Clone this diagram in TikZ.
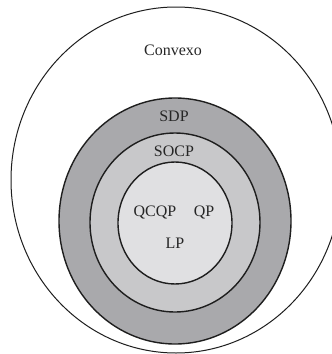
\documentclass[tikz,border=0pt]{standalone}
\usepackage{fontspec}
\setmainfont{Liberation Serif}
\definecolor{sdpgray}{RGB}{169,169,172}
\definecolor{socpgray}{RGB}{200,200,202}
\definecolor{innergray}{RGB}{224,224,226}
\definecolor{linecol}{RGB}{30,30,30}
\tikzset{
  ring/.style={draw=linecol, line width=1.4pt},
  lbl/.style={font=\fontsize{16}{18}\selectfont, text=black!85, inner sep=0pt, anchor=center}
}
\begin{document}
\begin{tikzpicture}[x=1pt,y=-1pt]
\useasboundingbox (0,0) rectangle (332,354);
\clip (0,0) rectangle (332,354);
\fill[white] (0,0) rectangle (332,354);
\draw[draw=linecol, line width=1pt] (176,180) ellipse [x radius=165, y radius=173];
\filldraw[ring, fill=sdpgray] (175,221) ellipse [x radius=116, y radius=123];
\filldraw[ring, fill=socpgray] (175,222.5) ellipse [x radius=85, y radius=89.5];
\filldraw[ring, fill=innergray] (175,223) ellipse [x radius=57, y radius=61];
\node[lbl] (convexo) at (173,50) {Convexo};
\node[lbl] (sdp) at (174,116) {SDP};
\node[lbl] (socp) at (174,151) {SOCP};
\node[lbl] (qcqp) at (155,212) {QCQP};
\node[lbl] (qp) at (204,212) {QP};
\node[lbl] (lp) at (175,243) {LP};
\end{tikzpicture}
\end{document}
